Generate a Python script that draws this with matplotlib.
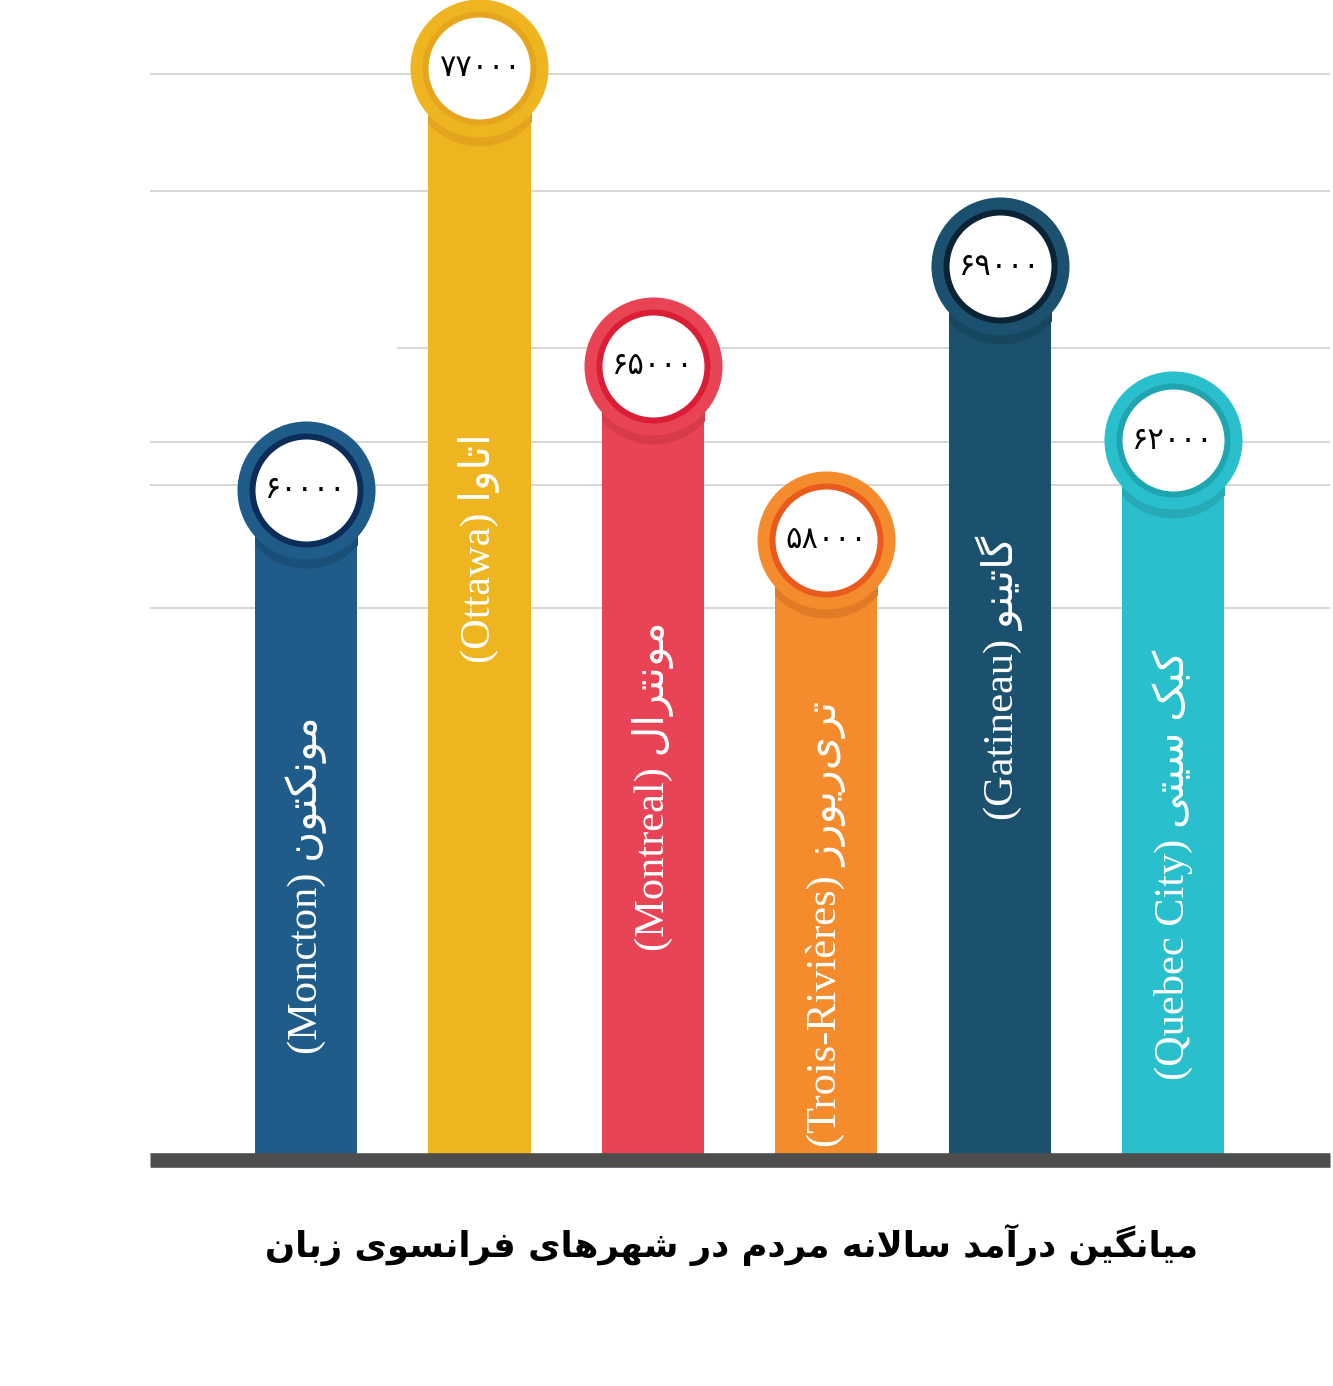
import matplotlib
matplotlib.use("Agg")
import matplotlib.pyplot as plt
import matplotlib.transforms as mtransforms

# داده‌ها
cities_fa = ["مونکتون", "اتاوا", "مونترال", "تری‌ریورز", "گاتینو", "کبک سیتی"]
cities_en = ["Moncton", "Ottawa", "Montreal", "Trois-Rivières", "Gatineau", "Quebec City"]
incomes = [60000, 77000, 65000, 58000, 69000, 62000]
title_fa = "میانگین درآمد سالانه مردم در شهرهای فرانسوی زبان"
grid_levels = [76750, 72050, 65700, 61930, 60200, 55250]

bar_colors = ["#1f5c8a", "#efb520", "#e94456", "#f48b2c", "#1b516e", "#2abfcc"]
ring_colors = ["#0c2d57", "#e6a51c", "#d91e36", "#ea5a1c", "#0a2436", "#1ea5b0"]
shadow_colors = ["#1a4f78", "#e3a51d", "#d63b4b", "#e27b25", "#17465f", "#25aab6"]
# جای برچسب روی ستون (کسری از ارتفاع ستون)
label_frac = [0.41, 0.56, 0.47, 0.38, 0.54, 0.41]

# شکل دادن حروف فارسی (matplotlib خودش این کار را نمی‌کند)
FORMS = {  # iso, fin, ini, med
    'ا': ('\uFE8D', '\uFE8E', None, None),
    'آ': ('\uFE81', '\uFE82', None, None),
    'ب': ('\uFE8F', '\uFE90', '\uFE91', '\uFE92'),
    'ت': ('\uFE95', '\uFE96', '\uFE97', '\uFE98'),
    'د': ('\uFEA9', '\uFEAA', None, None),
    'ر': ('\uFEAD', '\uFEAE', None, None),
    'ز': ('\uFEAF', '\uFEB0', None, None),
    'س': ('\uFEB1', '\uFEB2', '\uFEB3', '\uFEB4'),
    'ش': ('\uFEB5', '\uFEB6', '\uFEB7', '\uFEB8'),
    'ف': ('\uFED1', '\uFED2', '\uFED3', '\uFED4'),
    'ل': ('\uFEDD', '\uFEDE', '\uFEDF', '\uFEE0'),
    'م': ('\uFEE1', '\uFEE2', '\uFEE3', '\uFEE4'),
    'ن': ('\uFEE5', '\uFEE6', '\uFEE7', '\uFEE8'),
    'ه': ('\uFEE9', '\uFEEA', '\uFEEB', '\uFEEC'),
    'و': ('\uFEED', '\uFEEE', None, None),
    'ی': ('\uFBFC', '\uFBFD', '\uFBFE', '\uFBFF'),
    'ک': ('\uFB8E', '\uFB8F', '\uFB90', '\uFB91'),
    'گ': ('\uFB92', '\uFB93', '\uFB94', '\uFB95'),
}
LAM_ALEF = {'ا': ('\uFEFB', '\uFEFC'), 'آ': ('\uFEF5', '\uFEF6')}


def joins_fwd(c):
    return c in FORMS and FORMS[c][2] is not None


def shape_fa(text):
    out = []
    n = len(text)
    i = 0
    while i < n:
        c = text[i]
        if c not in FORMS:
            if c != '\u200c':
                out.append(c)
            i += 1
            continue
        prev = text[i - 1] if i > 0 else None
        nxt = text[i + 1] if i + 1 < n else None
        jp = prev is not None and joins_fwd(prev)
        if c == 'ل' and nxt in LAM_ALEF:
            out.append(LAM_ALEF[nxt][1] if jp else LAM_ALEF[nxt][0])
            i += 2
            continue
        jn = joins_fwd(c) and nxt in FORMS
        iso, fin, ini, med = FORMS[c]
        if jp and jn:
            out.append(med)
        elif jp:
            out.append(fin)
        elif jn:
            out.append(ini)
        else:
            out.append(iso)
        i += 1
    return ''.join(out)[::-1]


fa_digits = str.maketrans("0123456789", "۰۱۲۳۴۵۶۷۸۹")

fig = plt.figure(figsize=(13.33, 13.86), dpi=100)
ax = fig.add_axes([150 / 1333, 226 / 1386, 1180 / 1333, 1160 / 1386])

v0 = 33000
ax.set_ylim(v0, v0 + 1160 / 0.02482)
ax.set_xlim(-0.9, -0.9 + 1180 / 173.4)
ax.axis("off")

# خطوط راهنما
for g in grid_levels:
    start = 0.21 if abs(g - 65700) < 1 else 0
    ax.axhline(g, xmin=start, color="#cccccc", lw=1.1, zorder=0)

x = list(range(len(incomes)))
bars = ax.bar(x, [v - v0 for v in incomes], bottom=v0, width=0.59,
              color=bar_colors, zorder=2)

# خط پایه
ax.axhline(v0, color="#4d4d4d", lw=10.5, zorder=5, clip_on=False,
           solid_capstyle="butt")

shadow_tr = mtransforms.offset_copy(ax.transData, fig=fig, x=0, y=-9, units="dots")
for i, v in enumerate(incomes):
    sh = ax.scatter([i], [v], s=9880, color=shadow_colors[i], zorder=3,
                    transform=shadow_tr, linewidths=0)
    sh.set_clip_path(bars[i])
    ax.scatter([i], [v], s=9880, color=bar_colors[i], zorder=4, linewidths=0, clip_on=False)
    ax.scatter([i], [v], s=6740, color=ring_colors[i], zorder=4.1, linewidths=0, clip_on=False)
    ax.scatter([i], [v], s=5390, color="white", zorder=4.2, linewidths=0, clip_on=False)
    ax.text(i, v, str(v).translate(fa_digits), ha="center", va="center",
            fontsize=22, color="black", family="DejaVu Sans", zorder=6)

    label = "(" + cities_en[i] + ") " + shape_fa(cities_fa[i])
    ax.text(i, v0 + label_frac[i] * (v - v0), label, rotation=90, ha="center",
            va="center", fontsize=30.5, color="white",
            family=["Liberation Serif", "DejaVu Sans"], zorder=6)

fig.text(732 / 1333, 1 - 1245 / 1386, shape_fa(title_fa), ha="center", va="center",
         fontsize=25.5, weight="bold", color="black", family="DejaVu Sans")

fig.savefig("out.png", dpi=100, facecolor="white")
